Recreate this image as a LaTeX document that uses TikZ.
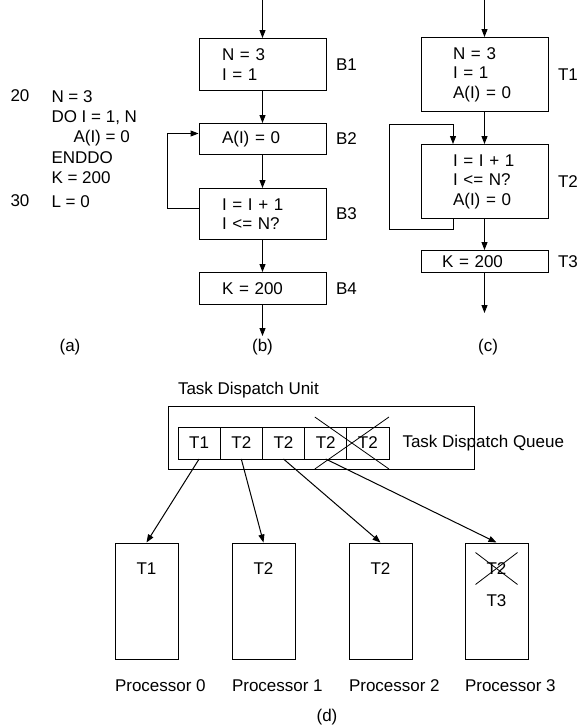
\documentclass[tikz,border=0pt]{standalone}
\usepackage{fontspec}
\setmainfont{Liberation Sans}
\usetikzlibrary{arrows.meta,positioning}

\begin{document}
\begin{tikzpicture}[
  x=1pt,y=-1pt,
  font=\fontsize{17}{19.5}\selectfont,
  line width=1pt,
  node distance=32pt,
  bloque/.style={draw,align=left,inner xsep=23pt,inner ysep=2pt,text width=81pt},
  tarea/.style={draw,align=left,inner xsep=32pt,inner ysep=2pt,text width=63pt},
  celda/.style={draw,outer sep=0pt,inner sep=0pt,minimum width=42.2pt,minimum height=32pt},
  proc/.style={draw,minimum width=63pt,minimum height=116pt},
  etiq/.style={inner sep=0pt},
  flecha/.style={-{Triangle[length=8pt,width=6pt]}},
  tacha/.style={line width=0.8pt}]
  \useasboundingbox (0,0) rectangle (579,728);
  % (a) codigo fuente
  \node[etiq,anchor=west] (n20) at (10,96) {20};
  \node[etiq,anchor=west] (n30) at (10,201) {30};
  \node[etiq,anchor=north west,align=left,font=\fontsize{17}{20.25}\selectfont] (codigo) at (51,90)
    {N = 3\\DO I = 1, N\\\hspace*{22pt}A(I) = 0\\ENDDO\\K = 200\\[3.75pt]L = 0};
  \node[etiq] (la) at (70,347) {(a)};
  % (b) bloques basicos
  \coordinate (b0) at (262.5,0);
  \node[bloque,minimum height=52pt,below=38pt of b0] (b1) {N = 3\\I = 1};
  \node[bloque,minimum height=31pt,below=of b1] (b2) {A(I) = 0};
  \node[bloque,minimum height=51pt,below=33pt of b2] (b3) {I = I + 1\\I <= N?};
  \node[bloque,minimum height=32pt,below=of b3] (b4) {K = 200};
  \coordinate[below=31pt of b4] (b5);
  \draw[flecha] (b0)--(b1); \draw[flecha] (b1)--(b2); \draw[flecha] (b2)--(b3);
  \draw[flecha] (b3)--(b4); \draw[flecha] (b4)--(b5);
  \draw[flecha] ([yshift=5.5pt]b3.west) -- ++(-31,0) |- ([yshift=5.5pt]b2.west);
  \node[etiq,right=9pt of b1] (eb1) {B1};
  \node[etiq,right=9pt of b2] (eb2) {B2};
  \node[etiq,right=9pt of b3] (eb3) {B3};
  \node[etiq,right=9pt of b4] (eb4) {B4};
  \node[etiq] (lb) at (262.5,347) {(b)};
  % (c) tareas
  \coordinate (t0) at (484.5,0);
  \node[tarea,minimum height=74pt,below=37pt of t0] (t1) {N = 3\\I = 1\\A(I) = 0};
  \node[tarea,minimum height=74pt,below=of t1] (t2) {I = I + 1\\I <= N?\\A(I) = 0};
  \node[draw,align=left,inner xsep=21pt,inner ysep=0pt,text width=85pt,minimum height=22pt,
        below=31pt of t2] (t3) {K = 200};
  \coordinate[below=40pt of t3] (t4);
  \draw[flecha] (t0)--(t1); \draw[flecha] (t1)--(t2);
  \draw[flecha] (t2)--(t3); \draw[flecha] (t3)--(t4);
  \draw[flecha] ([xshift=-31.5pt]t2.south) -- ++(0,10) -- ++(-64,0) -- ++(0,-105) -- ++(64,0)
    -- ([xshift=-31.5pt]t2.north);
  \node[etiq,right=9pt of t1] (et1) {T1};
  \node[etiq,right=9pt of t2] (et2) {T2};
  \node[etiq,right=9pt of t3] (et3) {T3};
  \node[etiq] (lc) at (488,347) {(c)};
  % (d) despacho de tareas
  \node[draw,minimum width=306pt,minimum height=63pt] (unidad) at (321,437.5) {};
  \node[etiq,anchor=west] (tunidad) at ([xshift=10pt,yshift=15pt]unidad.north west) {Task Dispatch Unit};
  \node[celda] (c1) at (199.1,443) {T1};
  \node[celda,right=0pt of c1] (c2) {T2};
  \node[celda,right=0pt of c2] (c3) {T2};
  \node[celda,right=0pt of c3] (c4) {T2};
  \node[celda,right=0pt of c4] (c5) {T2};
  \node[etiq,right=13pt of c5] (cola) {Task Dispatch Queue};
  \draw[tacha] ([shift={(-32,-10)}]c5.north west) -- ([shift={(0,10)}]c5.south east);
  \draw[tacha] ([shift={(-32,10)}]c5.south west) -- ([shift={(0,-10)}]c5.north east);
  \node[proc] (p0) at (146.5,601) {};
  \node[proc,right=53pt of p0] (p1) {};
  \node[proc,right=53pt of p1] (p2) {};
  \node[proc,right=52pt of p2] (p3) {};
  \node[etiq] (p0t) at ([yshift=-26pt]p0.north) {T1};
  \node[etiq] (p1t) at ([yshift=-26pt]p1.north) {T2};
  \node[etiq] (p2t) at ([yshift=-26pt]p2.north) {T2};
  \node[etiq] (p3t) at ([yshift=-26pt]p3.north) {T2};
  \node[etiq] (p3u) at ([yshift=-58pt]p3.north) {T3};
  \draw[tacha] ([shift={(-21,-16)}]p3t.center) -- ([shift={(21,16)}]p3t.center);
  \draw[tacha] ([shift={(-21,16)}]p3t.center) -- ([shift={(21,-16)}]p3t.center);
  \node[etiq,anchor=west] (np0) at ([yshift=-26pt]p0.south west) {Processor 0};
  \node[etiq,anchor=west] (np1) at ([yshift=-26pt]p1.south west) {Processor 1};
  \node[etiq,anchor=west] (np2) at ([yshift=-26pt]p2.south west) {Processor 2};
  \node[etiq,anchor=west] (np3) at ([yshift=-26pt]p3.south west) {Processor 3};
  \draw[flecha] (c1.south)--(p0.north); \draw[flecha] (c2.south)--(p1.north);
  \draw[flecha] (c3.south)--(p2.north); \draw[flecha] (c4.south)--(p3.north);
  \node[etiq] (ld) at (327,717) {(d)};
\end{tikzpicture}
\end{document}
